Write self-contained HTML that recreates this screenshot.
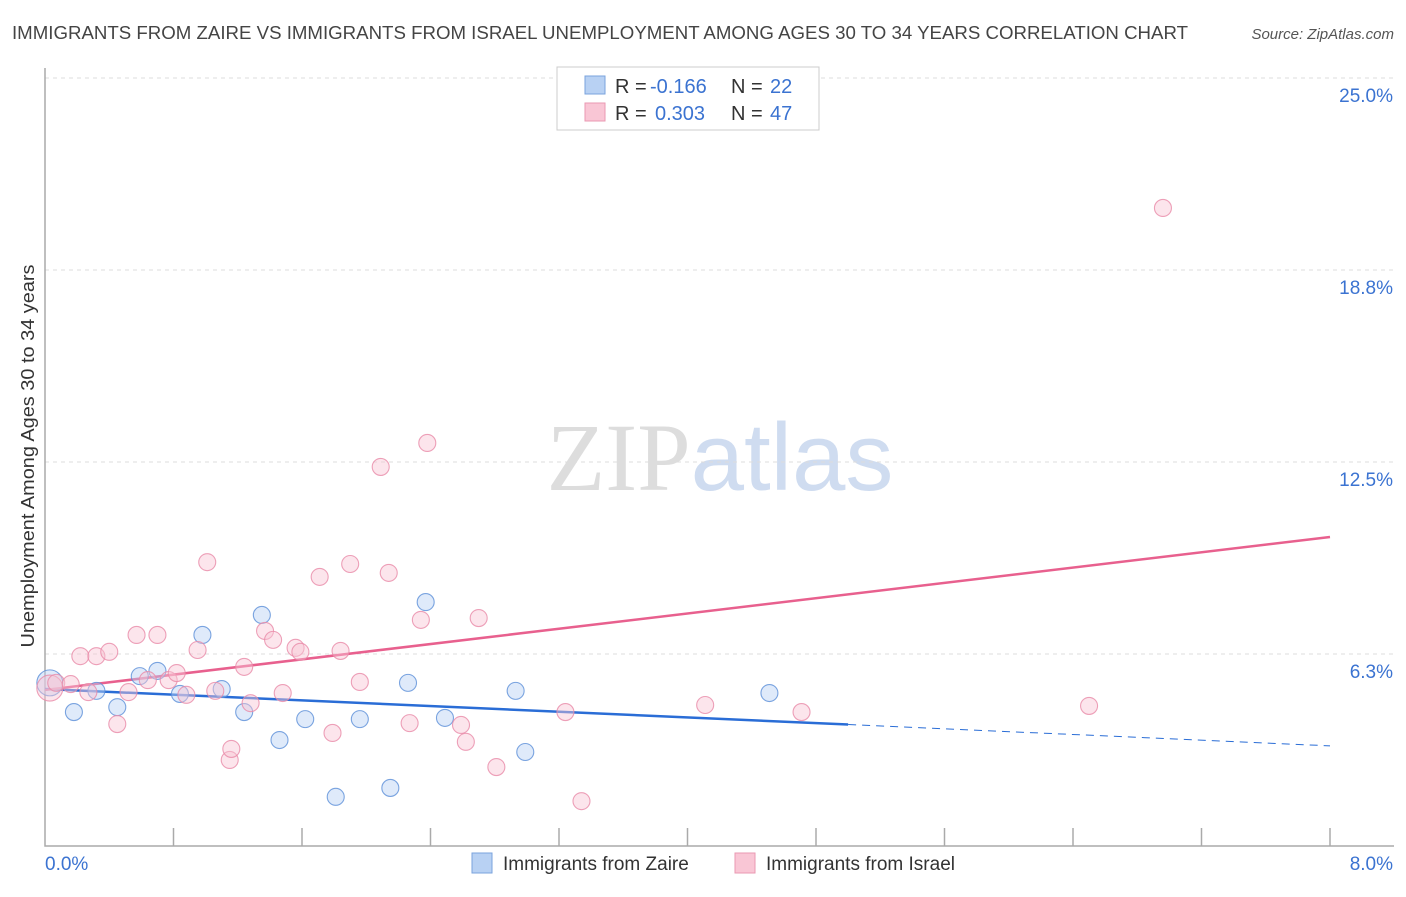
<!DOCTYPE html>
<html><head><meta charset="utf-8"><style>
body{margin:0;background:#fff;font-family:"Liberation Sans",sans-serif;}
svg text{font-family:"Liberation Sans",sans-serif;}
</style></head><body>
<svg id="chart" width="1406" height="892" viewBox="0 0 1406 892">
<text x="12" y="39" font-size="18" fill="#444" textLength="1176" lengthAdjust="spacingAndGlyphs">IMMIGRANTS FROM ZAIRE VS IMMIGRANTS FROM ISRAEL UNEMPLOYMENT AMONG AGES 30 TO 34 YEARS CORRELATION CHART</text>
<text x="1394" y="39" font-size="15" fill="#555" font-style="italic" text-anchor="end">Source: ZipAtlas.com</text>
<text transform="translate(34,456) rotate(-90)" font-size="18" fill="#333" text-anchor="middle" textLength="383" lengthAdjust="spacingAndGlyphs">Unemployment Among Ages 30 to 34 years</text>
<text x="720" y="490" font-size="96" text-anchor="middle"><tspan fill="#ddd" font-family="Liberation Serif">ZIP</tspan><tspan fill="#cfdcf0">atlas</tspan></text>
<g id="grid"></g><g id="axes"></g><g id="lines"></g><g id="pts"></g>
<g>
<rect x="557" y="67" width="262" height="63" fill="#fff" stroke="#ccc"/>
<rect x="585" y="76" width="20" height="18" fill="#b8d1f3" stroke="#7aa3dd"/>
<rect x="585" y="103" width="20" height="18" fill="#f9c6d5" stroke="#ea98b2"/>
<text x="615" y="93" font-size="20" fill="#333">R =</text>
<text x="650" y="93" font-size="20" fill="#3b73d1">-0.166</text>
<text x="731" y="93" font-size="20" fill="#333">N =</text>
<text x="770" y="93" font-size="20" fill="#3b73d1">22</text>
<text x="615" y="120" font-size="20" fill="#333">R =</text>
<text x="655" y="120" font-size="20" fill="#3b73d1">0.303</text>
<text x="731" y="120" font-size="20" fill="#333">N =</text>
<text x="770" y="120" font-size="20" fill="#3b73d1">47</text>
</g>
<g>
<rect x="472" y="853" width="20" height="20" fill="#b8d1f3" stroke="#7aa3dd"/>
<text x="503" y="870" font-size="19" fill="#333">Immigrants from Zaire</text>
<rect x="735" y="853" width="20" height="20" fill="#f9c6d5" stroke="#ea98b2"/>
<text x="766" y="870" font-size="19" fill="#333">Immigrants from Israel</text>
</g>
</svg>
<script>
const zaireX=[0.03,0.18,0.32,0.45,0.59,0.70,0.84,0.98,1.10,1.24,1.35,1.46,1.62,1.81,1.96,2.15,2.26,2.37,2.49,2.93,2.99,4.51];
const zaireY=[5.31,4.36,5.05,4.52,5.53,5.70,4.95,6.87,5.11,4.36,7.52,3.45,4.13,1.60,4.13,1.89,5.31,7.94,4.17,5.05,3.06,4.98];
const israelX=[0.03,0.07,0.16,0.22,0.27,0.32,0.40,0.45,0.52,0.57,0.64,0.70,0.77,0.82,0.88,0.95,1.01,1.06,1.15,1.16,1.24,1.28,1.37,1.42,1.48,1.56,1.59,1.71,1.79,1.84,1.90,1.96,2.09,2.14,2.27,2.34,2.38,2.59,2.62,2.70,2.81,3.24,3.34,4.11,4.71,6.50,6.96];
const israelY=[5.14,5.31,5.27,6.18,5.01,6.18,6.32,3.97,5.01,6.87,5.40,6.87,5.40,5.63,4.92,6.38,9.24,5.05,2.80,3.16,5.83,4.65,7.00,6.71,4.98,6.45,6.32,8.76,3.68,6.35,9.18,5.34,12.34,8.89,4.00,7.36,13.12,3.94,3.39,7.42,2.57,4.36,1.46,4.59,4.36,4.56,20.77];
const yTicks=[6.25,12.5,18.75,25];
const yTickLabels=["6.3%","12.5%","18.8%","25.0%"];
const xTicks=[0.8,1.6,2.4,3.2,4.0,4.8,5.6,6.4,7.2,8.0];
const zaireTrend=[5.11,3.26];
const zaireSolidEnd=5.0;
const israelTrend=[5.08,10.06];
const NS="http://www.w3.org/2000/svg";
const X=v=>45+v/8*1285, Y=v=>846-v*30.72;
function mk(parent,tag,attrs){const e=document.createElementNS(NS,tag);for(const k in attrs)e.setAttribute(k,attrs[k]);document.getElementById(parent).appendChild(e);return e;}
yTicks.forEach((t,i)=>{
 const l=mk('grid','line',{x1:45,x2:1394,y1:Y(t),y2:Y(t),stroke:'#ddd','stroke-dasharray':'4,4'});
 
 
 const tx=mk('grid','text',{x:1393,y:Y(t)+24,'font-size':19,fill:'#3b73d1','text-anchor':'end'});
 tx.textContent=yTickLabels[i];
 
 
});
const ax=mk('axes','path',{d:'M45,68 V846 H1394',stroke:'#aaa',fill:'none','stroke-width':1.5});


xTicks.forEach(t=>{
 const l=mk('axes','line',{x1:X(t),x2:X(t),y1:828,y2:846,stroke:'#aaa','stroke-width':1.5});
 
 
});
const x0=mk('axes','text',{x:45,y:870,'font-size':19,fill:'#3b73d1'});x0.textContent='0.0%';


const x1=mk('axes','text',{x:1393,y:870,'font-size':19,fill:'#3b73d1','text-anchor':'end'});x1.textContent='8.0%';


function pts(xs,ys,fill,stroke,name){xs.forEach((x,i)=>{
 const c=mk('pts','circle',{cx:X(x),cy:Y(ys[i]),r:i===0?13:8.5,fill:fill,'fill-opacity':0.45,stroke:stroke,'stroke-width':1.1,'stroke-opacity':0.8});
 
 
});}
pts(zaireX,zaireY,'#b8d1f3','#5b8fd8','point-zaire');
pts(israelX,israelY,'#f9c6d5','#e88aa8','point-israel');
const zy=v=>zaireTrend[0]+(zaireTrend[1]-zaireTrend[0])*v/8;
const bl=mk('lines','line',{x1:X(0),y1:Y(zy(0)),x2:X(zaireSolidEnd),y2:Y(zy(zaireSolidEnd)),stroke:'#2a6dd6','stroke-width':2.5});


const bd=mk('lines','line',{x1:X(zaireSolidEnd),y1:Y(zy(zaireSolidEnd)),x2:X(8),y2:Y(zy(8)),stroke:'#2a6dd6','stroke-width':1,'stroke-dasharray':'8,6'});


const pl=mk('lines','line',{x1:X(0),y1:Y(israelTrend[0]),x2:X(8),y2:Y(israelTrend[1]),stroke:'#e8608e','stroke-width':2.5});


</script>
</body></html>
